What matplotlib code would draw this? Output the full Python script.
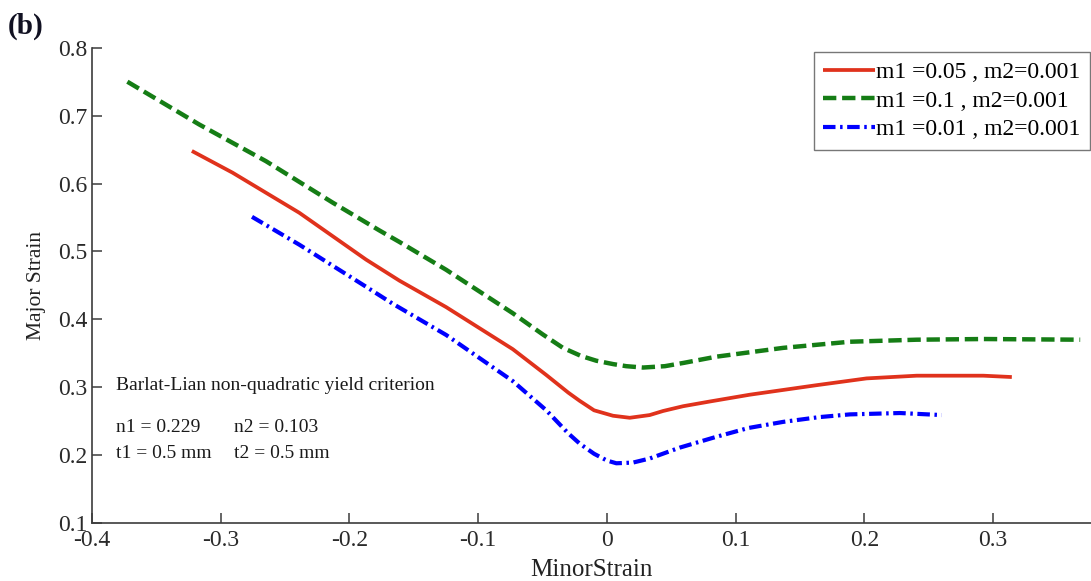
import matplotlib
matplotlib.use("Agg")
import matplotlib.pyplot as plt
from matplotlib.ticker import FuncFormatter

plt.rcParams['font.family'] = ['Liberation Serif', 'DejaVu Serif']
plt.rcParams['axes.unicode_minus'] = False

# ---- data ----
green_x = [-0.3725, -0.3167, -0.2649, -0.2131, -0.1768, -0.1612, -0.1249, -0.0731,
           -0.0500, -0.0342, -0.0200, -0.0082, 0.0050, 0.0150, 0.0280, 0.0450, 0.0600,
           0.0850, 0.1370, 0.1887, 0.2406, 0.2924, 0.3676]
green_y = [0.750, 0.687, 0.633, 0.572, 0.531, 0.514, 0.473, 0.409,
           0.378, 0.358, 0.346, 0.339, 0.334, 0.331, 0.329, 0.331, 0.336,
           0.345, 0.358, 0.367, 0.370, 0.371, 0.370]

red_x = [-0.3224, -0.2908, -0.2390, -0.1871, -0.1612, -0.1249, -0.0731, -0.0471,
         -0.0300, -0.0212, -0.0100, 0.0047, 0.0177, 0.0332, 0.0436, 0.0591, 0.0800,
         0.1110, 0.1628, 0.2017, 0.2406, 0.2924, 0.3145]
red_y = [0.648, 0.616, 0.557, 0.488, 0.457, 0.418, 0.356, 0.318,
         0.292, 0.280, 0.266, 0.258, 0.255, 0.259, 0.265, 0.272, 0.279,
         0.289, 0.303, 0.313, 0.317, 0.317, 0.315]

blue_x = [-0.2757, -0.2390, -0.1871, -0.1664, -0.1249, -0.0731, -0.0471, -0.0300,
          -0.0212, -0.0100, 0.0000, 0.0073, 0.0202, 0.0332, 0.0565, 0.0850, 0.1100,
          0.1370, 0.1650, 0.1887, 0.2276, 0.2600]
blue_y = [0.551, 0.510, 0.448, 0.423, 0.377, 0.309, 0.266, 0.232,
          0.217, 0.202, 0.192, 0.188, 0.189, 0.195, 0.211, 0.227, 0.240,
          0.249, 0.256, 0.260, 0.262, 0.259]

labels = ['m1 =0.05 , m2=0.001', 'm1 =0.1 , m2=0.001', 'm1 =0.01 , m2=0.001']
x_ticks = [-0.4, -0.3, -0.2, -0.1, 0.0, 0.1, 0.2, 0.3]
y_ticks = [0.1, 0.2, 0.3, 0.4, 0.5, 0.6, 0.7, 0.8]

# ---- figure ----
fig = plt.figure(figsize=(10.91, 5.81), dpi=100)
ax = fig.add_axes([0.0843, 0.0998, 0.9157, 0.818])

red_c = '#e0321c'
green_c = '#157d15'
blue_c = '#0000ff'

l1, = ax.plot(red_x, red_y, color=red_c, lw=2.7, solid_capstyle='butt',
              solid_joinstyle='round')
l2, = ax.plot(green_x, green_y, color=green_c, lw=3.2, linestyle=(0, (3.0, 1.3)))
l3, = ax.plot(blue_x, blue_y, color=blue_c, lw=3.0, linestyle=(0, (3.0, 1.1, 0.6, 1.1)))

ax.set_xlim(-0.4, 0.376)
ax.set_ylim(0.1, 0.8)
ax.set_xticks(x_ticks)
ax.set_yticks(y_ticks)

def xfmt(v, pos):
    if abs(v) < 1e-9:
        return '0'
    return '%.1f' % v
ax.xaxis.set_major_formatter(FuncFormatter(xfmt))
ax.yaxis.set_major_formatter(FuncFormatter(lambda v, p: '%.1f' % v))

axis_c = '#3c3c3c'
for s in ['top', 'right']:
    ax.spines[s].set_visible(False)
for s in ['left', 'bottom']:
    ax.spines[s].set_color(axis_c)
    ax.spines[s].set_linewidth(1.2)
ax.tick_params(direction='in', length=7.5, width=1.1, color=axis_c,
               labelsize=17, labelcolor='#2a2a2a')
ax.tick_params(axis='x', pad=5)
ax.tick_params(axis='y', pad=3)

ax.set_xlabel('MinorStrain', fontsize=18, color='#222222', labelpad=6)
ax.set_ylabel('Major Strain', fontsize=15.5, color='#222222', labelpad=9)

leg = ax.legend([l1, l2, l3], labels, loc='upper right',
                bbox_to_anchor=(0.999, 0.991), borderaxespad=0,
                fontsize=17, handlelength=2.2, handletextpad=0.05,
                labelspacing=0.3, borderpad=0.4, frameon=True, fancybox=False)
leg.get_frame().set_edgecolor('#555555')
leg.get_frame().set_linewidth(1.0)

txt_c = '#1a1a1a'
ax.text(-0.3815, 0.302, 'Barlat-Lian non-quadratic yield criterion', fontsize=14,
        va='center', ha='left', color=txt_c)
ax.text(-0.3815, 0.240, 'n1 = 0.229', fontsize=14, va='center', ha='left', color=txt_c)
ax.text(-0.2895, 0.240, 'n2 = 0.103', fontsize=14, va='center', ha='left', color=txt_c)
ax.text(-0.3815, 0.203, 't1 = 0.5 mm', fontsize=14, va='center', ha='left', color=txt_c)
ax.text(-0.2895, 0.203, 't2 = 0.5 mm', fontsize=14, va='center', ha='left', color=txt_c)

fig.text(0.007, 0.955, '(b)', fontsize=21, fontweight='bold', va='center', ha='left',
         color='#111122')

fig.savefig('out.png', dpi=100)
